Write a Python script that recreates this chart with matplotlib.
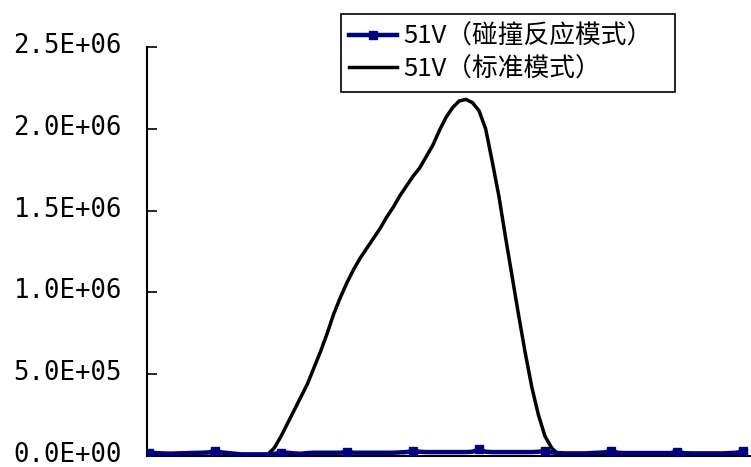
import numpy as np
import matplotlib
matplotlib.use("Agg")
import matplotlib.pyplot as plt
import matplotlib.transforms as mtransforms
from matplotlib.ticker import FuncFormatter
from matplotlib.patches import Rectangle

# sample index along the x axis (no x tick labels in the original)
x = np.arange(91)

# 51V collision/reaction mode -- stays near zero (units of 1e4)
collision_e4 = [2.0, 1.8, 1.6, 1.5, 1.5, 1.6, 1.8, 1.9, 2.0, 2.2,
                3.0, 2.2, 1.8, 1.4, 1.0, 1.0, 1.0, 1.0, 1.0, 1.4,
                2.0, 2.0, 1.6, 1.4, 1.8, 2.0, 2.0, 2.0, 2.0, 2.0,
                2.6, 2.0, 2.0, 2.0, 2.0, 2.0, 2.0, 2.0, 2.2, 2.4,
                3.0, 2.6, 2.4, 2.4, 2.4, 2.4, 2.4, 2.4, 2.4, 2.6,
                4.0, 2.6, 2.4, 2.4, 2.4, 2.4, 2.4, 2.4, 2.4, 2.6,
                3.0, 2.2, 1.8, 1.6, 1.6, 1.6, 1.6, 1.8, 2.0, 2.2,
                3.0, 2.0, 1.8, 1.8, 1.8, 1.8, 1.8, 1.8, 1.8, 1.8,
                2.6, 1.8, 1.6, 1.6, 1.6, 1.6, 1.6, 1.6, 1.8, 2.0,
                3.0]

# 51V standard mode (units of 1e6)
standard_e6 = [0.005, 0.005, 0.008, 0.012, 0.015, 0.018, 0.02, 0.02, 0.02, 0.02,
               0.02, 0.018, 0.015, 0.01, 0.006, 0.004, 0.003, 0.003, 0.01, 0.05,
               0.12, 0.20, 0.28, 0.36, 0.44, 0.54, 0.64, 0.75, 0.87, 0.97,
               1.06, 1.14, 1.21, 1.27, 1.33, 1.39, 1.46, 1.52, 1.59, 1.65,
               1.71, 1.76, 1.83, 1.90, 1.99, 2.07, 2.13, 2.17, 2.18, 2.16,
               2.11, 2.00, 1.80, 1.59, 1.34, 1.10, 0.86, 0.63, 0.42, 0.25,
               0.12, 0.05, 0.01, 0.006, 0.008, 0.01, 0.012, 0.014, 0.015, 0.015,
               0.015, 0.015, 0.015, 0.015, 0.015, 0.014, 0.012, 0.01, 0.01, 0.01,
               0.01, 0.01, 0.01, 0.01, 0.01, 0.01, 0.01, 0.01, 0.01, 0.01,
               0.01]

labels = ["51V（碰撞反应模式）", "51V（标准模式）"]
yticks = [0, 0.5e6, 1.0e6, 1.5e6, 2.0e6, 2.5e6]

collision = np.array(collision_e4) * 1e4
standard = np.array(standard_e6) * 1e6

W, H = 751, 467
fig = plt.figure(figsize=(W / 100, H / 100), dpi=100)
# axis box: x 147..751 px, y 47..456 px (from top)
ax = fig.add_axes([147 / W, 11 / H, 604 / W, 409 / H])

ax.plot(x, collision, color="#000080", lw=3.2, marker="s", markersize=6,
        markevery=10, label=labels[0], zorder=3)
ax.plot(x, standard, color="black", lw=2.5, label=labels[1], zorder=2)

ax.set_xlim(-0.3, 91.2)
ax.set_ylim(0, 2.5e6)
ax.set_yticks(yticks)
ax.yaxis.set_major_formatter(FuncFormatter(lambda v, p: f"{v:.1E}"))
ax.tick_params(axis="y", direction="in", length=7, width=1.2, pad=18,
               labelsize=18.5, colors="black")
# labels sit a few pixels above their ticks in the original
lift = mtransforms.ScaledTranslation(0, 4 / 100, fig.dpi_scale_trans)
for tk in ax.yaxis.get_major_ticks():
    tk.label1.set_family("DejaVu Sans Mono")
    tk.label1.set_transform(tk.label1.get_transform() + lift)
ax.set_xticks([])

for side in ("top", "right"):
    ax.spines[side].set_visible(False)
ax.spines["left"].set_linewidth(1.5)
ax.spines["bottom"].set_linewidth(1.5)

# legend without its own frame; box drawn to match the wider original
leg = fig.legend(loc="upper left", bbox_to_anchor=(341 / W, 1 - 16 / H),
                 borderaxespad=0, frameon=False,
                 prop={"family": ["Noto Sans CJK SC", "DejaVu Sans"], "size": 18.5},
                 handlelength=1.87, handletextpad=0.27, labelspacing=0.25,
                 borderpad=0.3)
fig.patches.append(Rectangle((341 / W, 1 - 92 / H), 334 / W, 78 / H,
                             transform=fig.transFigure, fill=False,
                             edgecolor="black", linewidth=1.2))

fig.savefig("out.png", dpi=100)
